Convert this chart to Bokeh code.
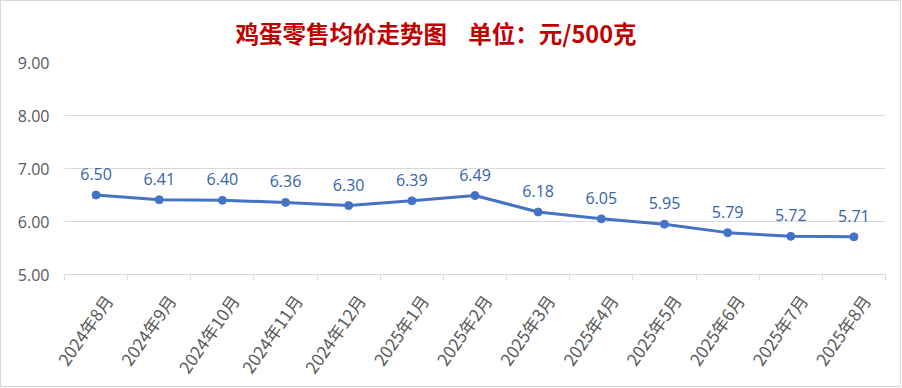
import math
from bokeh.plotting import figure
from bokeh.models import (Range1d, FixedTicker, NumeralTickFormatter, ColumnDataSource)
from bokeh.core.properties import value
from bokeh.embed import file_html
from bokeh.resources import INLINE

months = ["2024年8月", "2024年9月", "2024年10月", "2024年11月", "2024年12月",
          "2025年1月", "2025年2月", "2025年3月", "2025年4月", "2025年5月",
          "2025年6月", "2025年7月", "2025年8月"]
prices = [6.50, 6.41, 6.40, 6.36, 6.30, 6.39, 6.49, 6.18, 6.05, 5.95, 5.79, 5.72, 5.71]
y_ticks = [5, 6, 7, 8, 9]
title_text = "鸡蛋零售均价走势图\u00a0\u00a0\u00a0\u00a0单位：元/500克"

GRAY = "#d9d9d9"
TXT = "#595959"

n = len(months)
xpos = [i + 0.5 for i in range(n)]          # category centres
bounds = list(range(n + 1))                 # category boundaries
LABEL_SHIFT = 0.19                          # rotated-label anchor nudge (in category widths)
label_ticks = [x + LABEL_SHIFT for x in xpos]

p = figure(x_range=Range1d(0, n), y_range=Range1d(5, 9),
           width=901, height=387, output_backend="svg", toolbar_location=None,
           min_border_left=63, min_border_right=17,
           min_border_top=61, min_border_bottom=113)
p.outline_line_color = None
p.background_fill_color = "white"
p.border_fill_color = "white"
p.styles = {"border": "1px solid #d9d9d9", "box-sizing": "border-box"}

# title
p.title.text = title_text
p.title.text_font = "Noto Sans CJK SC"
p.title.text_font_style = "bold"
p.title.text_font_size = "23.5px"
p.title.text_color = "#C00000"
p.title.align = "left"
p.title.offset = 171
p.title.standoff = 25

# y axis
p.yaxis.ticker = FixedTicker(ticks=y_ticks)
p.yaxis.formatter = NumeralTickFormatter(format="0.00")
p.yaxis.axis_line_color = None
p.yaxis.major_tick_line_color = None
p.yaxis.minor_tick_line_color = None
p.yaxis.major_label_standoff = 9
p.yaxis.major_label_text_font = "Open Sans"
p.yaxis.major_label_text_font_size = "16px"
p.yaxis.major_label_text_color = TXT
p.ygrid.ticker = FixedTicker(ticks=y_ticks)
p.ygrid.grid_line_color = GRAY
p.xgrid.visible = False

# x axis: labels on (nudged) category centres, boundary ticks as minor ticks
xa = p.xaxis[0]
xa.ticker = FixedTicker(ticks=label_ticks, minor_ticks=bounds)
xa.major_label_overrides = {x: m for x, m in zip(label_ticks, months)}
xa.axis_line_color = GRAY
xa.major_tick_line_color = None
xa.major_tick_in = 0
xa.major_tick_out = 0
xa.minor_tick_line_color = GRAY
xa.minor_tick_in = 0
xa.minor_tick_out = 6
xa.major_label_orientation = math.radians(55)
xa.major_label_standoff = 16
xa.major_label_text_font = "Noto Sans CJK SC"
xa.major_label_text_font_size = "17px"
xa.major_label_text_color = TXT

src = ColumnDataSource(dict(x=xpos, price=prices, label=[f"{v:.2f}" for v in prices]))
p.line("x", "price", source=src, line_width=3, line_color="#4472C4")
p.scatter("x", "price", source=src, size=8, fill_color="#4472C4", line_color="#4472C4")
p.text("x", "price", text="label", source=src, text_align="center", text_baseline="bottom",
       y_offset=-15, text_font=value("Open Sans"), text_font_size="16px", text_color="#3563A9")

open("out.html", "w").write(file_html(p, INLINE))
